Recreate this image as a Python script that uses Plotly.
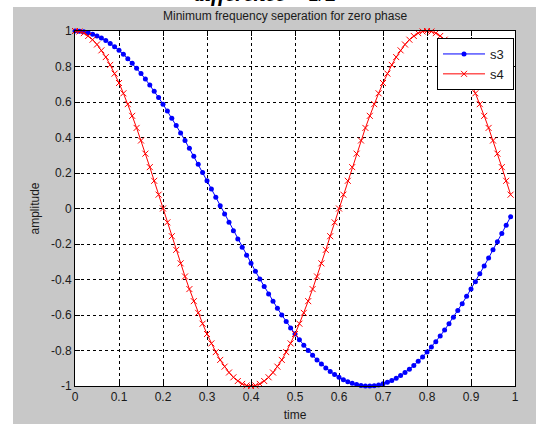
import plotly.graph_objects as go

t = [0.00, 0.01, 0.02, 0.03, 0.04, 0.05, 0.06, 0.07, 0.08, 0.09,
     0.10, 0.11, 0.12, 0.13, 0.14, 0.15, 0.16, 0.17, 0.18, 0.19,
     0.20, 0.21, 0.22, 0.23, 0.24, 0.25, 0.26, 0.27, 0.28, 0.29,
     0.30, 0.31, 0.32, 0.33, 0.34, 0.35, 0.36, 0.37, 0.38, 0.39,
     0.40, 0.41, 0.42, 0.43, 0.44, 0.45, 0.46, 0.47, 0.48, 0.49,
     0.50, 0.51, 0.52, 0.53, 0.54, 0.55, 0.56, 0.57, 0.58, 0.59,
     0.60, 0.61, 0.62, 0.63, 0.64, 0.65, 0.66, 0.67, 0.68, 0.69,
     0.70, 0.71, 0.72, 0.73, 0.74, 0.75, 0.76, 0.77, 0.78, 0.79,
     0.80, 0.81, 0.82, 0.83, 0.84, 0.85, 0.86, 0.87, 0.88, 0.89,
     0.90, 0.91, 0.92, 0.93, 0.94, 0.95, 0.96, 0.97, 0.98, 0.99]

s3 = [1.000, 0.999, 0.996, 0.990, 0.982, 0.972, 0.960, 0.946, 0.930, 0.911,
      0.891, 0.869, 0.844, 0.818, 0.790, 0.760, 0.729, 0.696, 0.661, 0.625,
      0.588, 0.549, 0.509, 0.468, 0.426, 0.383, 0.339, 0.294, 0.249, 0.203,
      0.156, 0.110, 0.063, 0.016, -0.031, -0.078, -0.125, -0.172, -0.218, -0.264,
      -0.309, -0.353, -0.397, -0.440, -0.482, -0.522, -0.562, -0.600, -0.637, -0.673,
      -0.707, -0.740, -0.771, -0.800, -0.827, -0.853, -0.876, -0.898, -0.918, -0.935,
      -0.951, -0.965, -0.976, -0.985, -0.992, -0.997, -1.000, -1.000, -0.998, -0.994,
      -0.988, -0.979, -0.969, -0.956, -0.941, -0.924, -0.905, -0.884, -0.861, -0.836,
      -0.809, -0.780, -0.750, -0.718, -0.685, -0.649, -0.613, -0.575, -0.536, -0.495,
      -0.454, -0.412, -0.368, -0.324, -0.279, -0.233, -0.187, -0.141, -0.094, -0.047]

s4 = [1.000, 0.997, 0.988, 0.972, 0.951, 0.924, 0.891, 0.853, 0.809, 0.760,
      0.707, 0.649, 0.588, 0.522, 0.454, 0.383, 0.309, 0.233, 0.156, 0.078,
      0.000, -0.078, -0.156, -0.233, -0.309, -0.383, -0.454, -0.522, -0.588, -0.649,
      -0.707, -0.760, -0.809, -0.853, -0.891, -0.924, -0.951, -0.972, -0.988, -0.997,
      -1.000, -0.997, -0.988, -0.972, -0.951, -0.924, -0.891, -0.853, -0.809, -0.760,
      -0.707, -0.649, -0.588, -0.522, -0.454, -0.383, -0.309, -0.233, -0.156, -0.078,
      0.000, 0.078, 0.156, 0.233, 0.309, 0.383, 0.454, 0.522, 0.588, 0.649,
      0.707, 0.760, 0.809, 0.853, 0.891, 0.924, 0.951, 0.972, 0.988, 0.997,
      1.000, 0.997, 0.988, 0.972, 0.951, 0.924, 0.891, 0.853, 0.809, 0.760,
      0.707, 0.649, 0.588, 0.522, 0.454, 0.383, 0.309, 0.233, 0.156, 0.078]

x_ticks = [0, 0.1, 0.2, 0.3, 0.4, 0.5, 0.6, 0.7, 0.8, 0.9, 1]
x_tick_labels = ["0", "0.1", "0.2", "0.3", "0.4", "0.5", "0.6", "0.7", "0.8", "0.9", "1"]
y_ticks = [-1, -0.8, -0.6, -0.4, -0.2, 0, 0.2, 0.4, 0.6, 0.8, 1]
y_tick_labels = ["-1", "-0.8", "-0.6", "-0.4", "-0.2", "0", "0.2", "0.4", "0.6", "0.8", "1"]
series_names = ["s3", "s4"]

title_text = "Minimum frequency seperation for zero phase"
header_text = "difference = 1/2"

FONT = "Liberation Sans, Arial, sans-serif"
GRAY = "#c8c8c8"
PAD = "&nbsp;"

fig = go.Figure()
fig.add_trace(go.Scatter(
    x=t, y=s3, name=series_names[0] + PAD, mode="lines+markers",
    line=dict(color="#0000ff", width=1),
    marker=dict(symbol="circle", size=5, color="#0000ff"),
    cliponaxis=False,
))
fig.add_trace(go.Scatter(
    x=t, y=s4, name=series_names[1] + PAD, mode="lines+markers",
    line=dict(color="#ff0000", width=1),
    marker=dict(symbol="x-thin", size=6, color="#ff0000",
                line=dict(color="#ff0000", width=1)),
    cliponaxis=False,
))

W, H = 536, 424
L, R, T, B = 75, 21, 31, 38
pw, ph = W - L - R, H - T - B

def px(xp):
    return (xp - L) / pw

def py(yp):
    return 1 - (yp - T) / ph

axis_common = dict(
    showline=True, linecolor="black", linewidth=1, mirror="ticks",
    ticks="inside", ticklen=5, tickcolor="black", tickwidth=1,
    showgrid=True, gridcolor="black", gridwidth=1, griddash="3px,3px",
    zeroline=False,
    tickfont=dict(family=FONT, size=12, color="#1a1a1a"),
)

fig.update_layout(
    width=W, height=H,
    margin=dict(l=L, r=R, t=T, b=B, autoexpand=False),
    paper_bgcolor=GRAY, plot_bgcolor="white",
    font=dict(family=FONT, size=12, color="#1a1a1a"),
    showlegend=True,
    legend=dict(
        x=px(437), y=py(38), xanchor="left", yanchor="top",
        bgcolor="white", bordercolor="black", borderwidth=1,
        font=dict(family=FONT, size=13, color="#1a1a1a"),
        tracegroupgap=0, itemwidth=42,
    ),
    xaxis=dict(
        range=[0, 1], tickvals=x_ticks, ticktext=x_tick_labels,
        title=dict(text="time", standoff=7, font=dict(family=FONT, size=12)),
        automargin=False, **axis_common,
    ),
    yaxis=dict(
        range=[-1, 1], tickvals=y_ticks, ticktext=y_tick_labels,
        title=dict(text="amplitude", standoff=8, font=dict(family=FONT, size=12)),
        automargin=False, **axis_common,
    ),
    shapes=[
        dict(type="rect", xref="paper", yref="paper",
             x0=px(-2), x1=px(13), y0=py(H + 2), y1=py(-2),
             fillcolor="white", line=dict(width=0), layer="above"),
        dict(type="rect", xref="paper", yref="paper",
             x0=px(-2), x1=px(W + 2), y0=py(7), y1=py(-2),
             fillcolor="white", line=dict(width=0), layer="above"),
    ],
    annotations=[
        dict(text=title_text, xref="paper", yref="paper",
             x=px(285), y=py(16), xanchor="center", yanchor="middle",
             showarrow=False, font=dict(family=FONT, size=12, color="#1a1a1a")),
        dict(text="<b><i>" + header_text + "</i></b>", xref="paper", yref="paper",
             x=px(265), y=py(8), xanchor="center", yanchor="bottom",
             showarrow=False,
             font=dict(family="Liberation Serif, Times New Roman, serif", size=22, color="black")),
    ],
)

fig.write_html(
    "out.html",
    config={"displayModeBar": False},
    post_script="document.body.style.margin='0px';document.body.style.padding='0px';"
                "document.body.style.overflow='hidden';",
)
